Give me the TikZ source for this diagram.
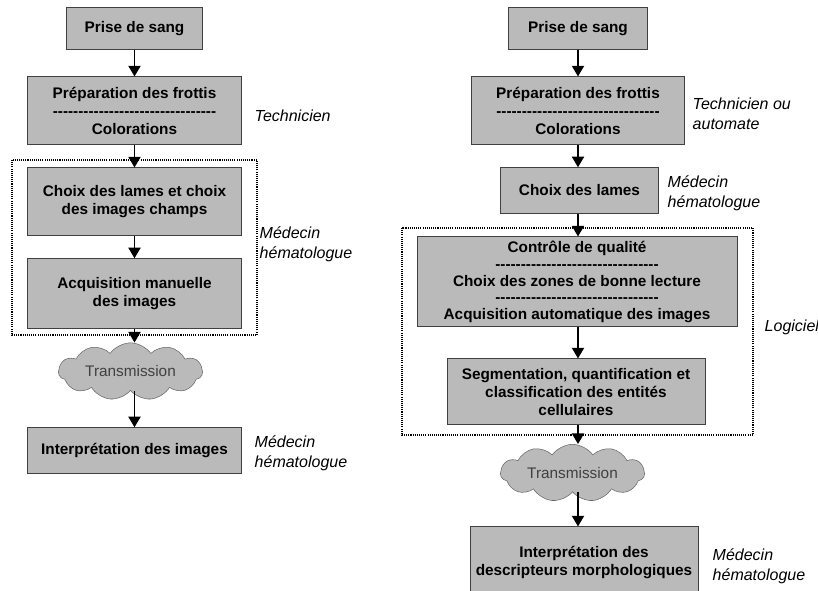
\documentclass[tikz,border=0pt]{standalone}
\usepackage{fontspec}
\setmainfont{Liberation Sans}
\usetikzlibrary{shapes.symbols,arrows.meta}

\newcommand{\tirets}{\foreach \i in {1,...,32}{-}}

\begin{document}
\begin{tikzpicture}[x=0.75pt, y=-0.75pt,
  every node/.style={font=\fontsize{11.5}{13.5}\selectfont},
  boite/.style={draw=black!75, fill=black!27, line width=0.75pt, align=center,
    inner sep=0pt, font=\bfseries\fontsize{11.5}{13.5}\selectfont},
  role/.style={anchor=west, align=left, font=\itshape\fontsize{12}{15}\selectfont},
  nuage/.style={cloud, cloud puffs=11, cloud puff arc=110, cloud ignores aspect,
    draw=black!60, fill=black!27, inner sep=0pt, text=black!75,
    minimum width=108pt, minimum height=43pt},
  fleche/.style={-{Triangle[width=9pt,length=8pt]}, line width=1.4pt},
  cadre/.style={line width=0.8pt, dash pattern=on 0.8pt off 0.8pt}]
\useasboundingbox (0,0) rectangle (818,591);

% cadres pointilles
\draw[cadre] (12,160) rectangle (257,335);
\draw[cadre] (402,228) rectangle (753,435);

% colonne gauche
\node[boite, minimum width=102pt, minimum height=31.5pt] (p1) at (134.5,29) {Prise de sang};
\node[boite, minimum width=160pt, minimum height=51pt] (p2) at (134.5,111)
  {Préparation des frottis\\\tirets\\Colorations};
\node[boite, minimum width=160pt, minimum height=51pt] (p3) at (134.5,202)
  {Choix des lames et choix\\des images champs};
\node[boite, minimum width=160pt, minimum height=52pt] (p4) at (134.5,293.5)
  {Acquisition manuelle\\des images};
\node[nuage] (n1) at (130.5,371.5) {Transmission};
\node[boite, minimum width=160pt, minimum height=34pt] (p5) at (134.5,450.5)
  {Interprétation des images};

\draw[fleche] (p1.south) -- (p2.north);
\draw[fleche] (p2.south) -- (p3.north);
\draw[fleche] (p3.south) -- (p4.north);
\draw[fleche] (p4.south) -- (p4.south |- n1.north);
\draw[fleche] (p4.south |- n1.south) -- (p5.north);

\node[role] (r1) at (250,116) {Technicien};
\node[role] (r2) at (255,244) {Médecin\\hématologue};
\node[role] (r3) at (250,453) {Médecin\\hématologue};

% colonne droite
\node[boite, minimum width=104pt, minimum height=31.5pt] (q1) at (578,29) {Prise de sang};
\node[boite, minimum width=160pt, minimum height=51pt] (q2) at (578,111)
  {Préparation des frottis\\\tirets\\Colorations};
\node[boite, minimum width=118pt, minimum height=34pt] (q3) at (579.5,190.5) {Choix des lames};
\node[boite, minimum width=240pt, minimum height=67.5pt,
  font=\bfseries\fontsize{11.5}{12.6}\selectfont] (q4) at (577,282)
  {Contrôle de qualité\\\tirets\\Choix des zones de bonne lecture\\\tirets\\Acquisition automatique des images};
\node[boite, minimum width=193.5pt, minimum height=49.5pt] (q5) at (576,392)
  {Segmentation, quantification et\\classification des entités\\cellulaires};
\node[nuage] (n2) at (572.5,473) {Transmission};
\node[boite, minimum width=171pt, minimum height=54pt] (q6) at (584,563)
  {Interprétation des\\descripteurs morphologiques};

\draw[fleche] (q1.south -| q2) -- (q2.north -| q2);
\draw[fleche] (q2.south) -- (q2.south |- q3.north);
\draw[fleche] (q2.south |- q3.south) -- (q2.south |- q4.north);
\draw[fleche] (q2.south |- q4.south) -- (q2.south |- q5.north);
\draw[fleche] (q2.south |- q5.south) -- (q2.south |- n2.north);
\draw[fleche] (q2.south |- n2.south) -- (q2.south |- q6.north);

\node[role] (s1) at (688,114) {Technicien ou\\automate};
\node[role] (s2) at (663,193) {Médecin\\hématologue};
\node[role] (s3) at (760,327) {Logiciel};
\node[role] (s4) at (708,566) {Médecin\\hématologue};
\end{tikzpicture}
\end{document}
